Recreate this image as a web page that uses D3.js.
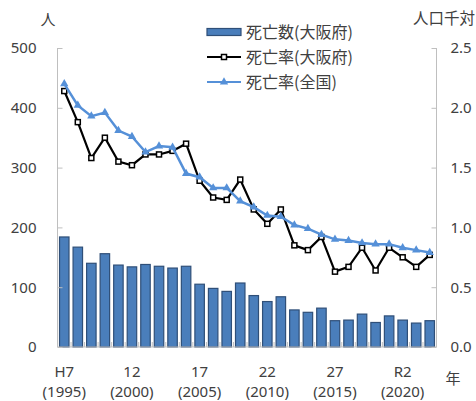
<!DOCTYPE html>
<html><head><meta charset="utf-8">
<script src="https://cdn.jsdelivr.net/npm/d3@7"></script>
<style>
html,body{margin:0;padding:0;background:#fff;}
svg{display:block;}
text{font-family:"Noto Sans CJK JP","Noto Sans",sans-serif;fill:#404040;}
text.num{font-family:"Noto Sans","Noto Sans CJK JP",sans-serif;}
</style></head>
<body><svg id="c" width="476" height="401"></svg>
<script>
const years = [1995,1996,1997,1998,1999,2000,2001,2002,2003,2004,2005,2006,2007,2008,2009,2010,2011,2012,2013,2014,2015,2016,2017,2018,2019,2020,2021,2022];
const deaths = [184,167,140,156,137,134,138,135,132,135,105,98,93,107,86,76,84,62,58,65,44,45,55,41,52,45,40,44];
const osakaRate = [2.14,1.88,1.58,1.75,1.55,1.52,1.61,1.61,1.64,1.70,1.39,1.25,1.23,1.40,1.15,1.03,1.15,0.85,0.81,0.92,0.63,0.67,0.83,0.64,0.83,0.75,0.67,0.77];
const nationalRate = [2.20,2.02,1.93,1.96,1.81,1.76,1.63,1.68,1.67,1.45,1.42,1.33,1.33,1.22,1.17,1.10,1.09,1.02,0.99,0.94,0.90,0.89,0.87,0.86,0.86,0.83,0.81,0.79];
const tickYears = [1995,2000,2005,2010,2015,2020];
const tickEra = ["H7","12","17","22","27","R2"];
const leftTicks = [0,100,200,300,400,500];
const rightTicks = [0,0.5,1.0,1.5,2.0,2.5];
const seriesNames = ["死亡数(大阪府)","死亡率(大阪府)","死亡率(全国)"];

const svg = d3.select("#c");
const L = 57.5, R = 436.5, T = 48, B = 347;
const x = d3.scaleBand().domain(years).range([L, R]).paddingInner(0.3).paddingOuter(0.15);
const yL = d3.scaleLinear().domain([0,500]).range([B, T]);
const yR = d3.scaleLinear().domain([0,2.5]).range([B, T]);
const axisCol = "#bfbfbf";

// bars
svg.append("g").selectAll("rect").data(years).join("rect")
  .attr("x", d => x(d)).attr("width", x.bandwidth())
  .attr("y", (d,i) => yL(deaths[i])).attr("height", (d,i) => B - yL(deaths[i]))
  .attr("fill", "#4a7ebb").attr("stroke", "#2f4f78").attr("stroke-width", 1.2);

// axes
const gl = svg.append("g").attr("transform", `translate(${L},0)`)
  .call(d3.axisRight(yL).tickValues(leftTicks).tickSize(5).tickFormat(d3.format("d")));
gl.select(".domain").attr("stroke", axisCol).attr("d", `M0,${T}V${B}`);
gl.selectAll(".tick line").attr("stroke", axisCol);
gl.selectAll(".tick text").attr("class","num").attr("x", -21).attr("text-anchor", "end").style("font-size","15px").attr("fill","#404040");

const gr = svg.append("g").attr("transform", `translate(${R},0)`)
  .call(d3.axisLeft(yR).tickValues(rightTicks).tickSize(5).tickFormat(d3.format(".1f")));
gr.select(".domain").attr("stroke", axisCol).attr("d", `M0,${T}V${B}`);
gr.selectAll(".tick line").attr("stroke", axisCol);
gr.selectAll(".tick text").attr("class","num").attr("x", 14).attr("text-anchor", "start").style("font-size","15px").attr("fill","#404040");

// bottom axis
svg.append("line").attr("x1", L).attr("x2", R).attr("y1", B).attr("y2", B).attr("stroke", axisCol);
const bounds = years.map(d => x(d) - x.step()*x.paddingInner()/2).concat([R]);
svg.append("g").selectAll("line").data(bounds).join("line")
  .attr("x1", d => d).attr("x2", d => d).attr("y1", B).attr("y2", B - 5).attr("stroke", axisCol);
svg.append("g").selectAll("text").data(tickYears).join("text").attr("class","num")
  .attr("x", d => x(d) + x.bandwidth()/2).attr("y", 377).attr("text-anchor","middle")
  .style("font-size","15px").text((d,i) => tickEra[i]);
svg.append("g").selectAll("text").data(tickYears).join("text").attr("class","num")
  .attr("x", d => x(d) + x.bandwidth()/2).attr("y", 397).attr("text-anchor","middle")
  .style("font-size","15px").text(d => `(${d})`);

// lines
const cx = d => x(d) + x.bandwidth()/2;
const lineO = d3.line().x(d => cx(d)).y((d,i) => yR(osakaRate[i]));
const lineN = d3.line().x(d => cx(d)).y((d,i) => yR(nationalRate[i]));
svg.append("path").datum(years).attr("d", lineO).attr("fill","none").attr("stroke","#000").attr("stroke-width",2.2);
svg.append("g").selectAll("rect").data(years).join("rect")
  .attr("x", d => cx(d) - 2.5).attr("y", (d,i) => yR(osakaRate[i]) - 2.5)
  .attr("width", 5).attr("height", 5).attr("fill","#fff").attr("stroke","#000").attr("stroke-width",1.5);

const blue = "#5590d8";
svg.append("path").datum(years).attr("d", lineN).attr("fill","none").attr("stroke",blue).attr("stroke-width",2.5);
const tri = d3.symbol().type(d3.symbolTriangle).size(30);
svg.append("g").selectAll("path").data(years).join("path")
  .attr("d", tri).attr("transform", (d,i) => `translate(${cx(d)},${yR(nationalRate[i])})`)
  .attr("fill", blue);

// axis titles
svg.append("text").attr("x", 48).attr("y", 25).attr("text-anchor","middle").style("font-size","15px").text("人");
svg.append("text").attr("x", 413).attr("y", 24).attr("text-anchor","start").style("font-size","15.5px").text("人口千対");
svg.append("text").attr("x", 453).attr("y", 384).attr("text-anchor","middle").style("font-size","15px").text("年");

// legend
const lg = svg.append("g");
const rows = [32, 57, 82];
lg.append("rect").attr("x", 207).attr("y", rows[0]-3.5).attr("width", 34).attr("height", 7)
  .attr("fill", "#4a7ebb").attr("stroke", "#2f4f78").attr("stroke-width", 1.2);
lg.append("line").attr("x1", 207).attr("x2", 241).attr("y1", rows[1]).attr("y2", rows[1]).attr("stroke","#000").attr("stroke-width",2.2);
lg.append("rect").attr("x", 221.5).attr("y", rows[1]-2.5).attr("width",5).attr("height",5).attr("fill","#fff").attr("stroke","#000").attr("stroke-width",1.5);
lg.append("line").attr("x1", 207).attr("x2", 241).attr("y1", rows[2]).attr("y2", rows[2]).attr("stroke",blue).attr("stroke-width",2.2);
lg.append("path").attr("d", tri).attr("transform", `translate(224,${rows[2]})`).attr("fill", blue);
lg.selectAll("text").data(seriesNames).join("text")
  .attr("x", 246).attr("y", (d,i) => rows[i]).attr("dy","0.36em")
  .style("font-size","16px").text(d => d);
</script></body></html>
